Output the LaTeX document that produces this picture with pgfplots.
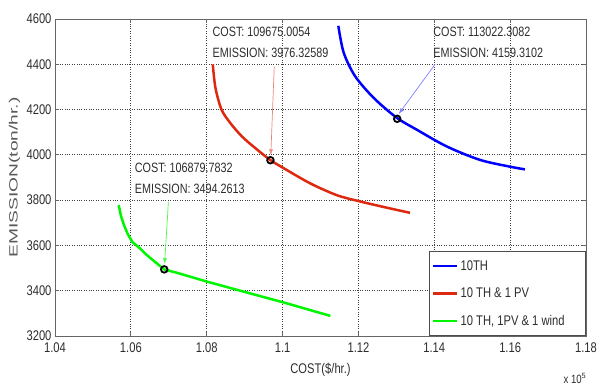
\documentclass[border=0pt]{standalone}
\usepackage{fontspec}
\setmainfont{Liberation Sans}[FakeStretch=0.8]
\newfontfamily\ylfont{Liberation Sans}[FakeStretch=1.6]
\usepackage{pgfplots}
\pgfplotsset{compat=1.18}
\usetikzlibrary{arrows.meta}
\definecolor{cblue}{RGB}{0,0,255}
\definecolor{cred}{RGB}{222,40,15}
\definecolor{cgreen}{RGB}{0,245,0}
\definecolor{txt}{RGB}{45,45,45}
\begin{document}
\begin{tikzpicture}
\begin{axis}[
  scale only axis, width=531pt, height=317pt,
  xmin=1.04, xmax=1.18, ymin=3200, ymax=4600,
  xtick={1.04,1.06,1.08,1.1,1.12,1.14,1.16,1.18},
  xticklabels={1.04,1.06,1.08,1.1,1.12,1.14,1.16,1.18},
  ytick={3200,3400,3600,3800,4000,4200,4400,4600},
  yticklabel style={/pgf/number format/.cd,1000 sep={},assume math mode=true},
  xticklabel style={yshift=-3pt},
  grid=major,
  major grid style={dotted, black!75, line width=0.9pt},
  tick align=inside, major tick length=4pt,
  tick style={black!60, line width=0.8pt},
  axis line style={black!60, line width=0.8pt},
  ticklabel style={font=\fontsize{14}{14}\selectfont, text=txt},
  xlabel={COST(\$/hr.)},
  xlabel style={at={(axis description cs:0.5,-0.108)}, anchor=center, font=\fontsize{14}{14}\selectfont, text=txt},
  ylabel={{\ylfont EMISSION(ton/hr.)}},
  ylabel style={at={(axis description cs:-0.076,0.5)}, anchor=center, font=\fontsize{12}{12}\selectfont, text=black!65},
  legend style={at={(1,0)}, anchor=south east, draw=black!70, line width=0.8pt,
    font=\fontsize{14}{14}\selectfont, text=txt, row sep=12pt, inner xsep=3pt, inner ysep=7pt,
    cells={anchor=west}},
  legend image code/.code={\draw[line width=2.5pt] (0pt,0pt) -- (24pt,0pt);},
]
\addplot[cblue, line width=2.5pt, smooth, tension=0.5] coordinates {
 (1.1147,4570) (1.1161,4452) (1.1191,4348) (1.1240,4252) (1.1300,4165)
 (1.1354,4111) (1.1433,4037) (1.1520,3978) (1.1599,3948) (1.1639,3936)};
\addlegendentry{10TH}
\addplot[cred, line width=2.5pt, smooth, tension=0.5] coordinates {
 (1.0816,4400) (1.0823,4296) (1.0839,4200) (1.0862,4141) (1.0893,4081) (1.0928,4030)
 (1.0967,3978) (1.1000,3944) (1.1073,3874) (1.1143,3822) (1.1200,3796) (1.1266,3770) (1.1336,3744)};
\addlegendentry{10 TH \& 1 PV}
\addplot[cgreen, line width=2.5pt] coordinates {
 (1.0568,3778) (1.0574,3730) (1.0582,3689) (1.0592,3650) (1.0604,3615) (1.0622,3590) (1.0643,3556)
 (1.0688,3494) (1.0722,3479) (1.0801,3440) (1.0906,3392) (1.1003,3348) (1.1126,3289)};
\addlegendentry{10 TH, 1PV \& 1 wind\hspace*{16pt}}
\addplot[only marks, mark=o, mark size=3.3pt, black, line width=1.8pt, forget plot]
 coordinates {(1.0968,3976.33) (1.13022,4159.31) (1.06880,3494.26)};
\draw[-{Latex[length=6pt,width=4pt]}, cred!55!white, line width=0.7pt]
 (axis cs:1.0978,4390) -- (axis cs:1.0969,3998);
\draw[-{Latex[length=6pt,width=4pt]}, cblue!50!white, line width=0.7pt]
 (axis cs:1.1402,4400) -- (axis cs:1.1306,4180);
\draw[-{Latex[length=6pt,width=4pt]}, cgreen!70!white, line width=0.7pt]
 (axis cs:1.0699,3793) -- (axis cs:1.0689,3518);
\node[anchor=north west, align=left, inner sep=0pt, font=\fontsize{13.5}{21}\selectfont, text=txt]
 at (axis cs:1.0815,4564) {COST: 109675.0054\\EMISSION: 3976.32589};
\node[anchor=north west, align=left, inner sep=0pt, font=\fontsize{13.5}{21}\selectfont, text=txt]
 at (axis cs:1.1397,4564) {COST: 113022.3082\\EMISSION: 4159.3102};
\node[anchor=north west, align=left, inner sep=0pt, font=\fontsize{13.5}{21}\selectfont, text=txt]
 at (axis cs:1.0610,3964) {COST: 106879.7832\\EMISSION: 3494.2613};
\end{axis}
\node[anchor=base east, font=\fontsize{12}{12}\selectfont, text=txt] at ([xshift=4pt,yshift=-47pt]current axis.south east) {x 10$^{\mathsf{5}}$};
\path ([xshift=-55pt,yshift=-53pt]current axis.south west) rectangle ([xshift=20pt,yshift=19pt]current axis.north east);
\end{tikzpicture}
\end{document}
